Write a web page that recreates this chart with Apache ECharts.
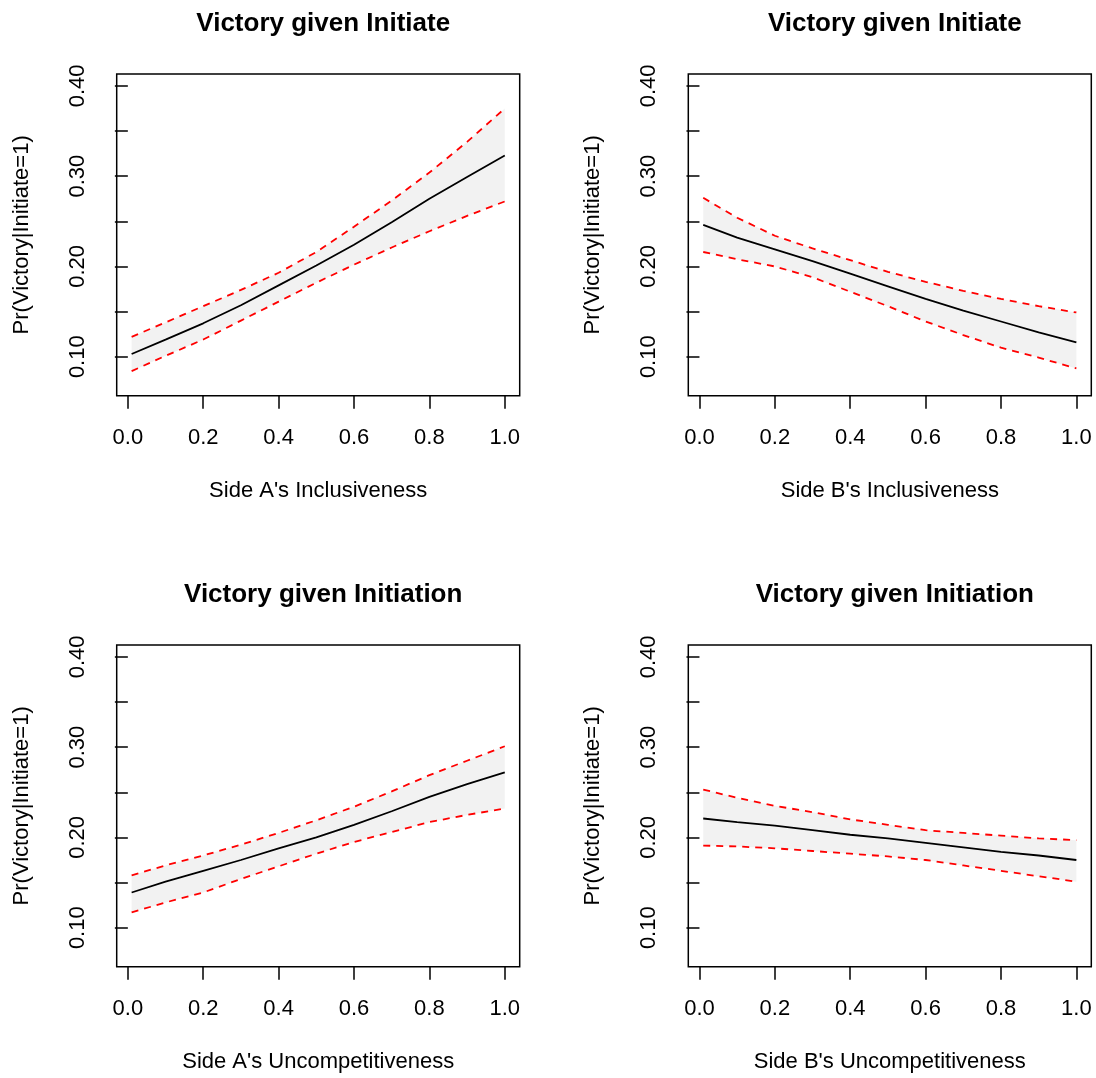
<!DOCTYPE html>
<html>
<head>
<meta charset="utf-8">
<script src="https://cdn.jsdelivr.net/npm/echarts@6/dist/echarts.min.js"></script>
<style>
  html, body { margin: 0; padding: 0; background: #fff; }
  #chart { width: 1096px; height: 1078px; }
</style>
</head>
<body>
<div id="chart"></div>
<script>
// ---- data ----
const xValues = [0.01, 0.1, 0.2, 0.3, 0.4, 0.5, 0.6, 0.7, 0.8, 0.9, 1.0];

const titles = ["Victory given Initiate", "Victory given Initiate", "Victory given Initiation", "Victory given Initiation"];
const xNames = ["Side A's Inclusiveness", "Side B's Inclusiveness", "Side A's Uncompetitiveness", "Side B's Uncompetitiveness"];
const yName = "Pr(Victory|Initiate=1)";

const meanAIncl  = [0.103, 0.119, 0.137, 0.157, 0.179, 0.201, 0.224, 0.249, 0.275, 0.299, 0.323];
const upperAIncl = [0.122, 0.138, 0.156, 0.174, 0.193, 0.216, 0.244, 0.273, 0.304, 0.338, 0.375];
const lowerAIncl = [0.084, 0.101, 0.119, 0.140, 0.161, 0.182, 0.202, 0.221, 0.239, 0.256, 0.272];

const meanBIncl  = [0.246, 0.232, 0.219, 0.206, 0.192, 0.178, 0.164, 0.151, 0.139, 0.127, 0.116];
const upperBIncl = [0.276, 0.254, 0.234, 0.220, 0.207, 0.194, 0.183, 0.173, 0.164, 0.156, 0.149];
const lowerBIncl = [0.216, 0.208, 0.200, 0.188, 0.172, 0.156, 0.139, 0.124, 0.110, 0.099, 0.087];

const meanAUnc  = [0.139, 0.151, 0.163, 0.175, 0.188, 0.200, 0.214, 0.229, 0.245, 0.259, 0.272];
const upperAUnc = [0.158, 0.169, 0.180, 0.192, 0.205, 0.219, 0.234, 0.251, 0.269, 0.285, 0.301];
const lowerAUnc = [0.117, 0.128, 0.139, 0.154, 0.168, 0.182, 0.195, 0.206, 0.217, 0.225, 0.232];

const meanBUnc  = [0.221, 0.217, 0.213, 0.208, 0.203, 0.199, 0.194, 0.189, 0.184, 0.180, 0.175];
const upperBUnc = [0.253, 0.244, 0.235, 0.228, 0.220, 0.214, 0.208, 0.205, 0.202, 0.199, 0.197];
const lowerBUnc = [0.191, 0.190, 0.188, 0.185, 0.182, 0.179, 0.175, 0.169, 0.163, 0.157, 0.151];

const xTickValues = [0, 0.2, 0.4, 0.6, 0.8, 1.0];
const yTickValues = [0.10, 0.15, 0.20, 0.25, 0.30, 0.35, 0.40];
const yLabelValues = [0.10, 0.20, 0.30, 0.40];

// axis extents (R-style 4% padding around the data ranges)
const xMin = -0.0296, xMax = 1.0396;
const yMin = 0.0568, yMax = 0.4132;

const panels = [
  { mean: meanAIncl, upper: upperAIncl, lower: lowerAIncl, left: 116.7, top: 74 },
  { mean: meanBIncl, upper: upperBIncl, lower: lowerBIncl, left: 688.3, top: 74 },
  { mean: meanAUnc,  upper: upperAUnc,  lower: lowerAUnc,  left: 116.7, top: 645 },
  { mean: meanBUnc,  upper: upperBUnc,  lower: lowerBUnc,  left: 688.3, top: 645 }
];
const gridW = 403, gridH = 321.7;
const FONT = "Liberation Sans, Arial, Helvetica, sans-serif";

const grids = [], xAxes = [], yAxes = [], series = [], titleList = [];
const zip = (arr) => xValues.map((x, i) => [x, arr[i]]);

panels.forEach((p, i) => {
  grids.push({
    left: p.left, top: p.top, width: gridW, height: gridH,
    show: true, borderColor: '#000', borderWidth: 1.5, backgroundColor: 'transparent'
  });
  titleList.push({
    text: titles[i],
    left: p.left + gridW / 2, top: p.top - 68, textAlign: 'center',
    textStyle: { fontFamily: FONT, fontSize: 26, fontWeight: 'bold', color: '#000' }
  });
  xAxes.push({
    type: 'value', gridIndex: i, min: xMin, max: xMax,
    name: xNames[i], nameLocation: 'middle', nameGap: 84,
    nameTextStyle: { fontFamily: FONT, fontSize: 22, color: '#000' },
    axisLine: { show: false },
    splitLine: { show: false },
    axisTick: { show: true, inside: false, length: 13, customValues: xTickValues,
                lineStyle: { color: '#000', width: 1.5 } },
    axisLabel: { show: true, margin: 31, customValues: xTickValues,
                 formatter: (v) => v.toFixed(1),
                 fontFamily: FONT, fontSize: 22, color: '#000' }
  });
  yAxes.push({
    type: 'value', gridIndex: i, min: yMin, max: yMax,
    name: yName, nameLocation: 'middle', nameGap: 84,
    nameTextStyle: { fontFamily: FONT, fontSize: 22, color: '#000' },
    axisLine: { show: false },
    splitLine: { show: false },
    axisTick: { show: true, inside: false, length: 13, customValues: yTickValues,
                lineStyle: { color: '#000', width: 1.5 } },
    axisLabel: { show: true, margin: 28, rotate: 90, customValues: yLabelValues,
                 formatter: (v) => v.toFixed(2),
                 fontFamily: FONT, fontSize: 22, color: '#000' }
  });
  // shaded confidence band: polygon through upper then lower (reversed), via axis coords
  series.push({
    type: 'custom', xAxisIndex: i, yAxisIndex: i, silent: true, z: 1,
    data: [[0.5, 0.2]],
    renderItem: (params, api) => {
      const pts = [];
      xValues.forEach((x, k) => pts.push(api.coord([x, p.upper[k]])));
      for (let k = xValues.length - 1; k >= 0; k--) pts.push(api.coord([xValues[k], p.lower[k]]));
      return { type: 'polygon', shape: { points: pts }, style: { fill: '#f2f2f2', stroke: null } };
    }
  });
  series.push({
    type: 'line', xAxisIndex: i, yAxisIndex: i, data: zip(p.upper), symbol: 'none', z: 3,
    lineStyle: { color: '#ff0000', width: 1.8, type: [7, 6] }
  });
  series.push({
    type: 'line', xAxisIndex: i, yAxisIndex: i, data: zip(p.lower), symbol: 'none', z: 3,
    lineStyle: { color: '#ff0000', width: 1.8, type: [7, 6] }
  });
  series.push({
    type: 'line', xAxisIndex: i, yAxisIndex: i, data: zip(p.mean), symbol: 'none', z: 4,
    lineStyle: { color: '#000', width: 1.8 }
  });
});

const chart = echarts.init(document.getElementById('chart'), null, { renderer: 'canvas' });
chart.setOption({
  backgroundColor: '#fff',
  animation: false,
  title: titleList,
  grid: grids,
  xAxis: xAxes,
  yAxis: yAxes,
  series: series
});
</script>
</body>
</html>
